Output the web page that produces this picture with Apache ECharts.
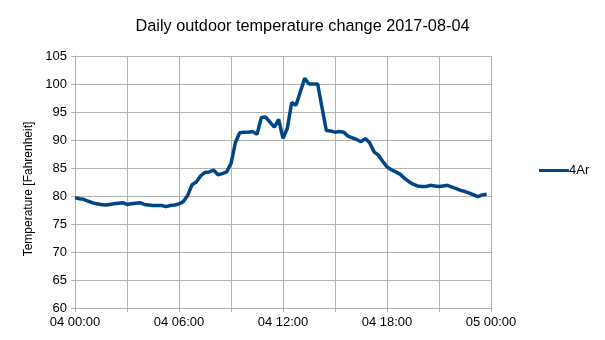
<!DOCTYPE html>
<html>
<head>
<meta charset="utf-8">
<script src="https://cdn.jsdelivr.net/npm/echarts@6/dist/echarts.min.js"></script>
<style>
html,body{margin:0;padding:0;background:#fff;}
#chart{width:605px;height:340px;}
</style>
</head>
<body>
<div id="chart"></div>
<script>
// 每15分钟一个读数
var times = [
	'00:00','00:15','00:30','00:45','01:00','01:15','01:30','01:45',
	'02:00','02:15','02:30','02:45','03:00','03:15','03:30','03:45',
	'04:00','04:15','04:30','04:45','05:00','05:15','05:30','05:45',
	'06:00','06:15','06:30','06:45','07:00','07:15','07:30','07:45',
	'08:00','08:15','08:30','08:45','09:00','09:15','09:30','09:45',
	'10:00','10:15','10:30','10:45','11:00','11:15','11:30','11:45',
	'12:00','12:15','12:30','12:45','13:00','13:15','13:30','13:45',
	'14:00','14:15','14:30','14:45','15:00','15:15','15:30','15:45',
	'16:00','16:15','16:30','16:45','17:00','17:15','17:30','17:45',
	'18:00','18:15','18:30','18:45','19:00','19:15','19:30','19:45',
	'20:00','20:15','20:30','20:45','21:00','21:15','21:30','21:45',
	'22:00','22:15','22:30','22:45','23:00','23:15','23:30','23:45'
];
var temps = [
	79.7, 79.5, 79.4, 79.1, 78.8, 78.6, 78.5, 78.4,
	78.5, 78.6, 78.7, 78.8, 78.5, 78.6, 78.7, 78.8,
	78.5, 78.4, 78.3, 78.3, 78.3, 78.1, 78.3, 78.4,
	78.6, 79.0, 80.1, 82.0, 82.5, 83.6, 84.2, 84.3,
	84.6, 83.8, 84.0, 84.3, 85.8, 89.5, 91.3, 91.4,
	91.4, 91.5, 91.0, 94.0, 94.1, 93.2, 92.3, 93.7,
	90.3, 92.1, 96.7, 96.2, 98.6, 101.0, 100.0, 100.0,
	100.0, 95.8, 91.7, 91.6, 91.4, 91.5, 91.4, 90.7,
	90.4, 90.1, 89.7, 90.25, 89.5, 87.9, 87.3, 86.2,
	85.2, 84.7, 84.3, 83.9, 83.2, 82.6, 82.1, 81.8,
	81.7, 81.7, 81.9, 81.8, 81.7, 81.8, 81.9, 81.6,
	81.3, 81.0, 80.8, 80.5, 80.2, 79.9, 80.2, 80.3
];
var seriesName = '4Ar';
var titleText = 'Daily outdoor temperature change 2017-08-04';
var yName = 'Temperature [Fahrenheit]';

var chart = echarts.init(document.getElementById('chart'));
var font = 'Liberation Sans';
var gridColor = '#b3b3b3';

// 时间转成小时数
var points = [];
for (var i=0;i<times.length;++i) {
	var hm = times[i].split(':');
	points.push([parseInt(hm[0],10)+parseInt(hm[1],10)/60, temps[i]]);
}

function pad(n) { return (n<10?'0':'')+n; }

var option = {
	animation: false,
	title: {
		text: titleText,
		left: 'center',
		top: 14,
		textStyle: {fontFamily: font, fontSize: 16.3, fontWeight: 'normal', color: '#000'}
	},
	legend: {
		left: 539,
		top: 164,
		padding: 0,
		icon: 'rect',
		itemWidth: 30,
		itemHeight: 3,
		itemGap: 0,
		textStyle: {fontFamily: font, fontSize: 13, color: '#000', padding: [0,0,0,-5]},
		data: [seriesName]
	},
	grid: {left: 75, right: 114, top: 56, bottom: 32},
	xAxis: {
		type: 'value',
		min: 0, max: 24, interval: 3,
		axisLine: {lineStyle: {color: gridColor}},
		axisTick: {show: true, length: 4, lineStyle: {color: gridColor}},
		splitLine: {show: true, lineStyle: {color: gridColor, width: 1}},
		axisLabel: {
			fontFamily: font, fontSize: 13, color: '#000', margin: 8,
			formatter: function(v) {
				if (v % 6 !== 0) return '';
				if (v === 24) return '05 00:00';
				return '04 ' + pad(v) + ':00';
			}
		}
	},
	yAxis: {
		type: 'value',
		min: 60, max: 105, interval: 5,
		name: yName,
		nameLocation: 'middle',
		nameGap: 39,
		nameTextStyle: {fontFamily: font, fontSize: 12, color: '#000', padding: [0,0,0,-14]},
		axisLine: {show: true, lineStyle: {color: gridColor}},
		axisTick: {show: true, length: 4, lineStyle: {color: gridColor}},
		splitLine: {show: true, lineStyle: {color: gridColor, width: 1}},
		axisLabel: {fontFamily: font, fontSize: 13, color: '#000', margin: 8}
	},
	series: [{
		name: seriesName,
		type: 'line',
		data: points,
		showSymbol: false,
		symbol: 'none',
		lineStyle: {color: '#004586', width: 3.5},
		itemStyle: {color: '#004586'}
	}]
};
chart.setOption(option);
</script>
</body>
</html>
